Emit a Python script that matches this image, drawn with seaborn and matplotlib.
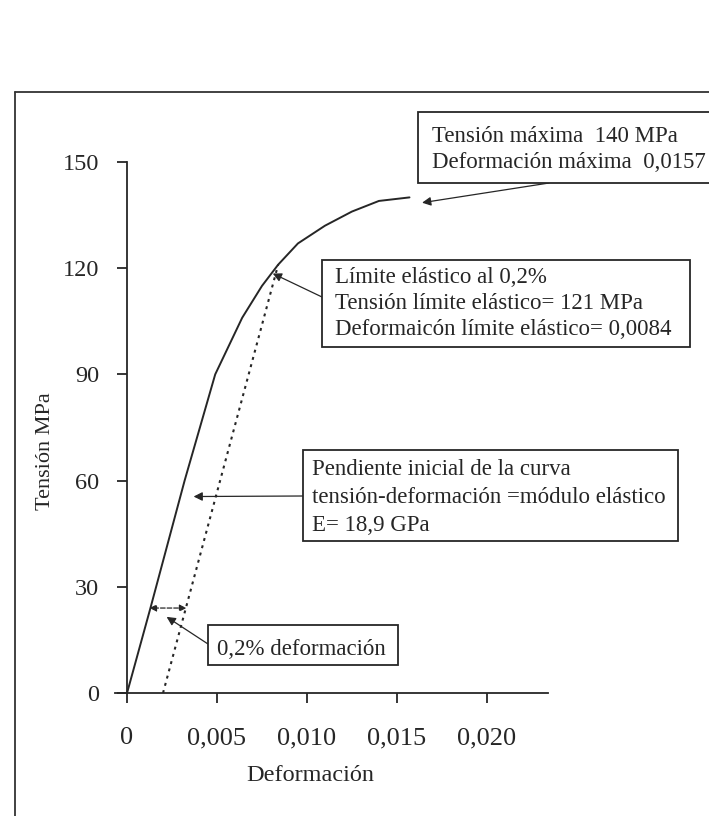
import matplotlib
matplotlib.use("Agg")
import matplotlib.pyplot as plt
import seaborn as sns
import pandas as pd
from matplotlib.lines import Line2D
from matplotlib.patches import Rectangle

# ---- data ----
strain = [0, 0.0013, 0.0032, 0.0049, 0.0064, 0.0075, 0.0084, 0.0095, 0.0110, 0.0125, 0.0140, 0.0157]
stress = [0, 24, 60, 90, 106, 115, 121, 127, 132, 136, 139, 140]
offset_strain = [0.002, 0.0084]
offset_stress = [0, 121]
x_ticks = [0, 0.005, 0.010, 0.015, 0.020]
x_ticklabels = ["0", "0,005", "0,010", "0,015", "0,020"]
y_ticks = [0, 30, 60, 90, 120, 150]
y_ticklabels = ["0", "30", "60", "90", "120", "150"]
box_max = ["Tensión máxima  140 MPa", "Deformación máxima  0,0157"]
box_yield = ["Límite elástico al 0,2%", "Tensión límite elástico= 121 MPa",
             "Deformaicón límite elástico= 0,0084"]
box_E = ["Pendiente inicial de la curva", "tensión-deformación =módulo elástico", "E= 18,9 GPa"]
box_off = ["0,2% deformación"]

sns.set_style("ticks")
plt.rcParams["font.family"] = ["Liberation Serif", "DejaVu Serif"]

W, H = 709, 816
INK = "#262626"
fig = plt.figure(figsize=(W / 100, H / 100), dpi=100)
fig.patch.set_facecolor("white")

def fp(x, y):
    return (x / W, 1 - y / H)

ax = fig.add_axes([115 / W, 1 - 693 / H, (548 - 115) / W, (693 - 162) / H])
ax.set_facecolor("none")

df = pd.DataFrame({"strain": strain, "stress": stress})
sns.lineplot(data=df, x="strain", y="stress", ax=ax, color=INK, lw=1.4, sort=False)
df2 = pd.DataFrame({"strain": offset_strain, "stress": offset_stress})
sns.lineplot(data=df2, x="strain", y="stress", ax=ax, color=INK, lw=1.5,
             linestyle=(0, (1.4, 2.2)), sort=False)

ax.set_xlim(-0.00067, 0.0234)
ax.set_ylim(0, 150)
ax.spines["top"].set_visible(False)
ax.spines["right"].set_visible(False)
ax.spines["left"].set_position(("data", 0))
for s in ["left", "bottom"]:
    ax.spines[s].set_linewidth(1.3)
    ax.spines[s].set_color(INK)
ax.set_xticks(x_ticks)
ax.set_xticklabels(x_ticklabels)
ax.set_yticks(y_ticks)
ax.set_yticklabels(y_ticklabels)
ax.tick_params(axis="both", width=1.3, length=7, color=INK, labelcolor=INK)
ax.tick_params(axis="y", pad=13, labelsize=17.5)
ax.tick_params(axis="x", pad=17.5, labelsize=19)
ax.set_xlabel("Deformación", fontsize=17.5, color=INK)
ax.xaxis.set_label_coords(0.45, -0.135)
ax.set_ylabel("Tensión MPa", fontsize=16, color=INK)
ax.yaxis.set_label_coords(-0.139, 0.455)

# figure frame
fig.add_artist(Line2D([15 / W, 15 / W], [0, 1 - 92 / H], transform=fig.transFigure, color="#333333", lw=1.3))
fig.add_artist(Line2D([15 / W, 1], [1 - 92 / H, 1 - 92 / H], transform=fig.transFigure, color="#333333", lw=1.3))

def textbox(x0, y0, x1, y1, tx, baselines, lines):
    bx, by = fp(x0, y1)
    fig.add_artist(Rectangle((bx, by), (x1 - x0) / W, (y1 - y0) / H, transform=fig.transFigure,
                             fc="white", ec=INK, lw=1.3, zorder=5))
    for b, s in zip(baselines, lines):
        fig.text(*fp(tx, b), s, fontsize=16.5, color=INK, ha="left", va="baseline", zorder=6)

textbox(418, 112, 714, 183, 432, [142, 168], box_max)
textbox(322, 260, 690, 347, 335, [283, 309, 335], box_yield)
textbox(303, 450, 678, 541, 312, [475, 503, 531], box_E)
textbox(208, 625, 398, 665, 217, [655], box_off)

ap = dict(arrowstyle="-|>", color=INK, lw=0.9, mutation_scale=13, shrinkA=0, shrinkB=0)
ax.annotate("", xy=(0.0164, 138.5), xycoords="data", xytext=fp(549, 183), textcoords="figure fraction", arrowprops=ap)
ax.annotate("", xy=(0.0081, 118.5), xycoords="data", xytext=fp(322, 297), textcoords="figure fraction", arrowprops=ap)
ax.annotate("", xy=(0.0037, 55.5), xycoords="data", xytext=fp(303, 496), textcoords="figure fraction", arrowprops=ap)
ax.annotate("", xy=(0.0022, 21.5), xycoords="data", xytext=fp(208, 644), textcoords="figure fraction", arrowprops=ap)
ax.annotate("", xy=(0.00125, 24), xycoords="data", xytext=(0.0033, 24), textcoords="data",
            arrowprops=dict(arrowstyle="<|-|>", color=INK, lw=0.9, mutation_scale=10,
                            linestyle="--", shrinkA=0, shrinkB=0))

fig.savefig("out.png", dpi=100)
